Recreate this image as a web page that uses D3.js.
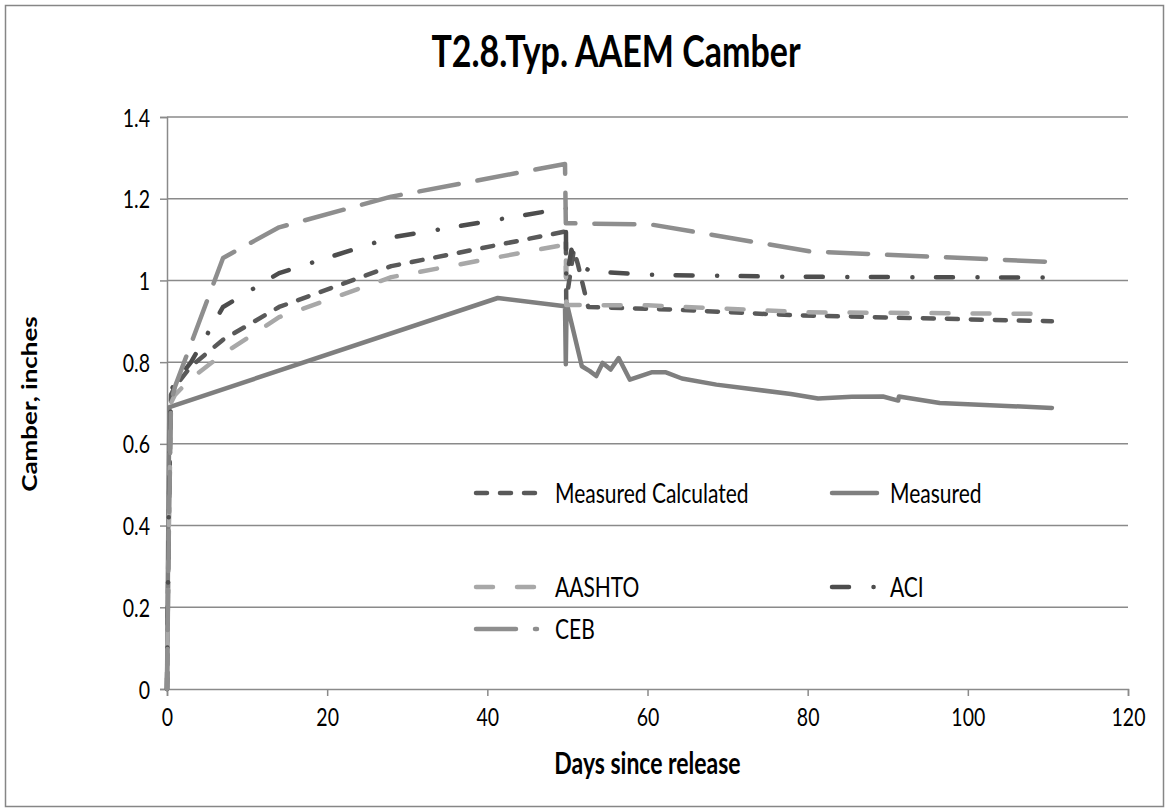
<!DOCTYPE html>
<html>
<head>
<meta charset="utf-8">
<script src="https://cdn.jsdelivr.net/npm/d3@7"></script>
<style>
  html, body { margin: 0; padding: 0; background: #fff; }
  svg { display: block; font-family: Lato, "Open Sans", sans-serif; }
</style>
</head>
<body>
<svg id="chart" width="1169" height="812"></svg>
<script>
// ---- Data (days since release, camber in inches) ----
const chartTitle = "T2.8.Typ. AAEM Camber";
const xAxisTitle = "Days since release";
const yAxisTitle = "Camber, inches";
const xTicks = [0, 20, 40, 60, 80, 100, 120];
const yTicks = [0, 0.2, 0.4, 0.6, 0.8, 1, 1.2, 1.4];

const measuredCalculated = [
  [0,0],[0.2,0.4],[0.5,0.72],[1,0.74],[3,0.79],[7,0.855],[14,0.935],[28,1.035],
  [49.8,1.12],[49.85,0.95],[50.8,1.075],[51.3,1.04],[52.6,0.935],[62.7,0.929],
  [77.9,0.915],[110.5,0.90]
];
const measured = [
  [0,0],[0.1,0.25],[0.2,0.5],[0.3,0.69],[41.3,0.957],[49.7,0.937],[49.8,0.795],
  [49.9,0.945],[50.8,0.872],[51.8,0.79],[52.8,0.778],[53.6,0.766],[54.4,0.798],
  [55.4,0.782],[56.4,0.81],[57.8,0.757],[60.5,0.775],[62.3,0.775],[64.3,0.76],
  [68.6,0.745],[77.9,0.722],[81.3,0.711],[85.5,0.715],[89.4,0.716],[91.3,0.706],
  [91.4,0.716],[96.5,0.70],[110.5,0.688]
];
const aashto = [
  [0,0],[0.2,0.35],[0.5,0.7],[1,0.72],[3,0.76],[7,0.82],[14,0.91],[28,1.008],
  [49.8,1.088],[49.85,0.94],[60,0.939],[80,0.922],[110.6,0.918]
];
const aci = [
  [0,0],[0.2,0.4],[0.5,0.73],[1,0.75],[3,0.80],[7,0.935],[14,1.018],[28,1.105],
  [49.8,1.177],[49.85,1.0],[50.5,1.075],[51.2,1.04],[53,1.022],[60,1.014],
  [77,1.009],[110.5,1.007]
];
const ceb = [
  [0,0],[0.2,0.35],[0.5,0.7],[1,0.74],[7,1.055],[14,1.13],[28,1.205],[49.7,1.285],
  [49.8,1.14],[60.4,1.137],[80.3,1.071],[110.6,1.045]
];

const seriesNames = ["Measured Calculated", "Measured", "AASHTO", "ACI", "CEB"];
const seriesData = [measuredCalculated, measured, aashto, aci, ceb];

// ---- Styles ----
const styles = {
  "Measured Calculated": { color: "#595959", dash: "11,13" },
  "Measured":            { color: "#7f7f7f", dash: null },
  "AASHTO":              { color: "#a8a8a8", dash: "17,24" },
  "ACI":                 { color: "#4d4d4d", dash: "17,24.5,0.1,23.5" },
  "CEB":                 { color: "#8e8e8e", dash: "40,19" }
};

const K = 1.3; // vertical stretch of text glyphs in the original picture

const svg = d3.select("#chart");
const W = 1169, H = 812;
const plot = { left: 167, right: 1128, top: 117, bottom: 689 };

// chart border
svg.append("rect").attr("x", 5.5).attr("y", 5.5).attr("width", W - 11).attr("height", H - 11)
  .attr("fill", "#fff").attr("stroke", "#868686").attr("stroke-width", 1.5);

const x = d3.scaleLinear().domain([0, 120]).range([plot.left, plot.right]);
const y = d3.scaleLinear().domain([0, 1.4]).range([plot.bottom, plot.top]);

// gridlines
svg.append("g").selectAll("line").data(yTicks.filter(t => t > 0)).join("line")
  .attr("x1", plot.left).attr("x2", plot.right)
  .attr("y1", d => y(d)).attr("y2", d => y(d))
  .attr("stroke", "#8a8a8a").attr("stroke-width", 1.5);

// axes
const yAxis = d3.axisLeft(y).tickValues(yTicks).tickSize(7)
  .tickFormat(d => String(+d.toFixed(1)));
const gy = svg.append("g").attr("transform", `translate(${plot.left},0)`).call(yAxis);
const xAxis = d3.axisBottom(x).tickValues(xTicks).tickSize(7);
const gx = svg.append("g").attr("transform", `translate(0,${plot.bottom})`).call(xAxis);
[gx, gy].forEach(g => {
  g.select(".domain").attr("stroke", "#8a8a8a").attr("stroke-width", 1.5);
  g.selectAll(".tick line").attr("stroke", "#8a8a8a").attr("stroke-width", 1.5);
  g.selectAll(".tick text").attr("fill", "#000").style("font-size", "19.5px")
    .style("font-family", "Lato, sans-serif");
});
gy.selectAll(".tick text").attr("x", null).attr("y", null).attr("dy", "0.36em")
  .attr("transform", `translate(-17,0) scale(1,${K})`);
gx.selectAll(".tick text").attr("y", null).attr("dy", "0.36em")
  .attr("transform", `translate(0,28) scale(1,${K})`);

// lines
const line = d3.line().x(d => x(d[0])).y(d => y(d[1]));
seriesNames.forEach((name, i) => {
  const st = styles[name];
  svg.append("path").datum(seriesData[i])
    .attr("d", line).attr("fill", "none")
    .attr("stroke", st.color).attr("stroke-width", 4.5)
    .attr("stroke-linecap", "round").attr("stroke-linejoin", "round")
    .attr("stroke-dasharray", st.dash);
});

// titles
function stretchedText(px, py, str, size, weight, anchor, dy) {
  return svg.append("text")
    .attr("transform", `translate(${px},${py}) scale(1,${K})`)
    .attr("text-anchor", anchor).attr("dy", dy || 0)
    .style("font-size", size + "px").style("font-weight", weight).text(str);
}
stretchedText(616, 67, chartTitle, 34, "bold", "middle");
stretchedText((plot.left + plot.right) / 2, 774, xAxisTitle, 23, "bold", "middle");
svg.append("text").attr("transform", `translate(30,404) rotate(-90) scale(${K},1)`)
  .attr("text-anchor", "middle").attr("dy", "0.35em")
  .style("font-size", "20px").style("font-weight", "bold").text(yAxisTitle);

// legend
const legendPos = [
  { sx: 476, ex: 537, tx: 555, y: 493 },  // Measured Calculated
  { sx: 832, ex: 877, tx: 890, y: 493 },  // Measured
  { sx: 476, ex: 537, tx: 555, y: 587 },  // AASHTO
  { sx: 832, ex: 877, tx: 890, y: 587 },  // ACI
  { sx: 476, ex: 537, tx: 555, y: 629 }   // CEB
];
seriesNames.forEach((name, i) => {
  const p = legendPos[i], st = styles[name];
  svg.append("line").attr("x1", p.sx).attr("x2", p.ex)
    .attr("y1", p.y).attr("y2", p.y)
    .attr("stroke", st.color).attr("stroke-width", 4.5)
    .attr("stroke-linecap", "round").attr("stroke-dasharray", st.dash);
  stretchedText(p.tx, p.y, name, 21, "normal", "start", "0.35em");
});
</script>
</body>
</html>
